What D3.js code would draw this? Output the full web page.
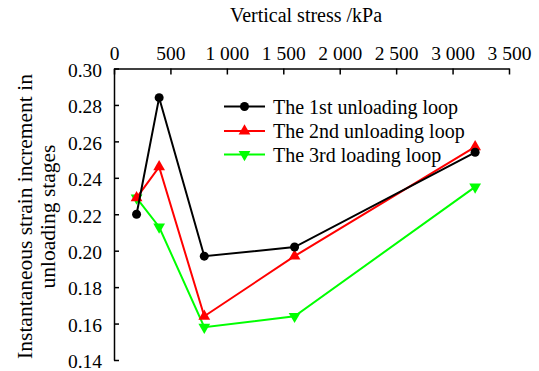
<!DOCTYPE html>
<html>
<head>
<meta charset="utf-8">
<script src="https://cdn.jsdelivr.net/npm/d3@7"></script>
<style>
  body { margin: 0; background: #fff; }
  svg text { font-family: "Liberation Serif", "DejaVu Serif", serif !important; fill: #000; }
</style>
</head>
<body>
<svg id="chart" width="539" height="371"></svg>
<script>
// Vertical stress levels (kPa)
const stress = [200, 400, 800, 1600, 3200];
// Instantaneous strain increment per loop
const loop1 = [0.220, 0.284, 0.197, 0.202, 0.254];
const loop2 = [0.229, 0.246, 0.164, 0.197, 0.257];
const loop3 = [0.229, 0.213, 0.158, 0.164, 0.235];
const seriesNames = ["The 1st unloading loop", "The 2nd unloading loop", "The 3rd loading loop"];
const seriesColors = ["#000000", "#ff0000", "#00ff00"];
const xTicks = [0, 500, 1000, 1500, 2000, 2500, 3000, 3500];
const yTicks = [0.14, 0.16, 0.18, 0.20, 0.22, 0.24, 0.26, 0.28, 0.30];

const svg = d3.select("#chart");
const plotL = 114, plotR = 509, plotT = 68.5, plotB = 360;
const tickFs = 19.5, labelFs = 20, yTitleFs = 21.5;
const serif = "'Liberation Serif', serif";

const x = d3.scaleLinear().domain([0, 3500]).range([plotL, plotR]);
const y = d3.scaleLinear().domain([0.14, 0.30]).range([plotB, plotT]);

const fmtX = v => v >= 1000 ? d3.format(",")(v).replace(",", " ") : String(v);

// Top x axis with inward ticks
const xAxis = svg.append("g").attr("transform", `translate(0,${plotT})`)
  .call(d3.axisTop(x).tickValues(xTicks).tickSizeInner(-6).tickSizeOuter(0).tickFormat(fmtX));
xAxis.attr("font-family", serif);
xAxis.select(".domain").attr("stroke", "#000").attr("stroke-width", 1.5);
xAxis.selectAll(".tick line").attr("stroke-width", 1.5);
xAxis.selectAll(".tick text").attr("font-size", tickFs).attr("y", -9).attr("dy", 0);

// Left y axis with inward ticks
const yAxis = svg.append("g").attr("transform", `translate(${plotL},0)`)
  .call(d3.axisLeft(y).tickValues(yTicks).tickSizeInner(-5).tickSizeOuter(0).tickFormat(d3.format(".2f")));
yAxis.attr("font-family", serif);
yAxis.select(".domain").attr("stroke", "#000").attr("stroke-width", 1.5);
yAxis.selectAll(".tick line").attr("stroke-width", 1.5);
yAxis.selectAll(".tick text").attr("font-size", tickFs).attr("x", -12).attr("dy", "0.4em");

// Axis titles
svg.append("text").attr("x", 306).attr("y", 22).attr("text-anchor", "middle")
  .attr("font-size", labelFs).text("Vertical stress /kPa");
const yt = svg.append("text").attr("transform", "translate(32,216.5) rotate(-90)")
  .attr("text-anchor", "middle").attr("font-size", yTitleFs);
yt.append("tspan").attr("x", 0).attr("dy", 0).text("Instantaneous strain increment in");
yt.append("tspan").attr("x", 0).attr("dy", 23).text("unloading stages");

const line = d3.line().x(d => x(d[0])).y(d => y(d[1]));
const series = [loop1, loop2, loop3];
const symUp = d3.symbol().type(d3.symbolTriangle).size(60);

function marker(g, i, cx, cy) {
  if (i === 0) {
    g.append("circle").attr("cx", cx).attr("cy", cy).attr("r", 4.5).attr("fill", seriesColors[i]);
  } else {
    g.append("path").attr("d", symUp())
      .attr("transform", `translate(${cx},${cy})` + (i === 2 ? " rotate(180)" : ""))
      .attr("fill", seriesColors[i]);
  }
}

// Draw series from last to first so the 1st loop sits on top
[2, 1, 0].forEach(i => {
  const pts = stress.map((s, k) => [s, series[i][k]]);
  const g = svg.append("g");
  g.append("path").attr("d", line(pts)).attr("fill", "none")
    .attr("stroke", seriesColors[i]).attr("stroke-width", 2);
  pts.forEach(p => marker(g, i, x(p[0]), y(p[1])));
});

// Legend
const legY = [106.5, 131, 154.5];
seriesNames.forEach((name, i) => {
  const g = svg.append("g");
  g.append("line").attr("x1", 224).attr("x2", 265).attr("y1", legY[i]).attr("y2", legY[i])
    .attr("stroke", seriesColors[i]).attr("stroke-width", 2);
  marker(g, i, 244.5, legY[i]);
  g.append("text").attr("x", 273).attr("y", legY[i]).attr("dy", "0.35em")
    .attr("font-size", labelFs).text(name);
});
</script>
</body>
</html>
